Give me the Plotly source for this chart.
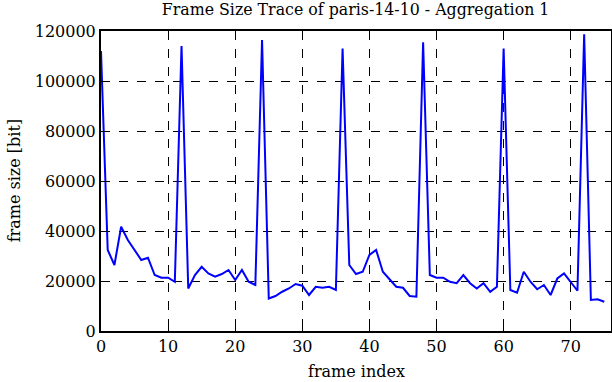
import plotly.graph_objects as go

frame_index = list(range(76))
frame_size = [
    112000, 32400, 26400, 41700, 36400, 32400, 28400, 29300, 22400, 21300,
    21300, 19700, 114000, 17000, 22400, 25700, 23000, 21700, 22800, 24400,
    20400, 24400, 19700, 18400, 116400, 13000, 14000, 15700, 17000, 18800,
    18100, 14400, 17700, 17300, 17700, 16400, 113000, 26400, 22800, 23700,
    30400, 32400, 23700, 20700, 17700, 17300, 14000, 13700, 115500, 22400,
    21300, 21300, 19700, 19100, 22400, 19100, 17000, 19100, 15700, 17700,
    113000, 16400, 15300, 23700, 19700, 16700, 18400, 14400, 21000, 23000,
    19700, 16100, 118700, 12400, 12700, 11700,
]
x_ticks = [0, 10, 20, 30, 40, 50, 60, 70]
y_ticks = [0, 20000, 40000, 60000, 80000, 100000, 120000]

font_family = "DejaVu Serif, Liberation Serif, serif"
fs = 16

fig = go.Figure()
fig.add_trace(go.Scatter(
    x=frame_index, y=frame_size, mode="lines",
    line=dict(color="#0000ff", width=2),
    showlegend=False,
))

axis_common = dict(
    showline=True, linecolor="black", linewidth=2, mirror="ticks",
    ticks="inside", ticklen=6, tickcolor="black", tickwidth=1,
    showgrid=True, gridcolor="black", gridwidth=1, griddash="dash",
    zeroline=False, automargin=False,
    tickfont=dict(family=font_family, size=fs, color="black"),
)

fig.update_layout(
    width=612, height=382,
    margin=dict(l=101, r=1, t=31, b=51),
    paper_bgcolor="white", plot_bgcolor="white",
    title=dict(
        text="Frame Size Trace of paris-14-10 - Aggregation 1",
        font=dict(family=font_family, size=15.8, color="black"),
        x=0.581, xanchor="center", y=0.99, yanchor="top",
    ),
    xaxis=dict(
        range=[0, 76], tickvals=x_ticks, ticktext=[str(v) for v in x_ticks],
        **axis_common,
    ),
    yaxis=dict(
        range=[0, 120000], tickvals=y_ticks, ticktext=[str(v) for v in y_ticks],
        **axis_common,
    ),
    annotations=[
        dict(text="frame index", xref="paper", yref="paper", x=0.5, y=-0.095,
             xanchor="center", yanchor="top", showarrow=False,
             font=dict(family=font_family, size=fs, color="black")),
        dict(text="frame size [bit]", xref="paper", yref="paper", x=-0.17, y=0.5,
             xanchor="center", yanchor="middle", textangle=-90, showarrow=False,
             font=dict(family=font_family, size=fs, color="black")),
    ],
)

fig.write_html("out.html", config={"displayModeBar": False},
               post_script="document.body.style.margin='0';document.body.style.padding='0';")
